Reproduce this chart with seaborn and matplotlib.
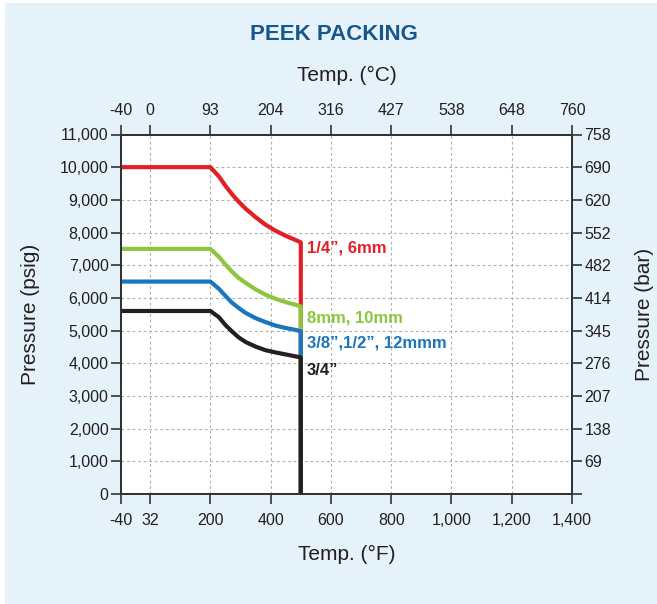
import numpy as np
import seaborn as sns
import matplotlib.pyplot as plt
from matplotlib.patches import Rectangle

# data (temperature in F, pressure in psig)
curve_t = [-40, 200, 228, 250, 272, 294, 317, 350, 383, 417, 450, 483, 500, 500]
red_p = [10000, 10000, 9720, 9430, 9170, 8940, 8730, 8470, 8240, 8050, 7900, 7770, 7700, 0]
green_p = [7500, 7500, 7260, 7020, 6800, 6610, 6460, 6260, 6100, 5970, 5870, 5790, 5740, 0]
blue_p = [6500, 6500, 6280, 6060, 5850, 5690, 5540, 5380, 5260, 5150, 5080, 5020, 4980, 0]
black_p = [5600, 5600, 5410, 5170, 4970, 4790, 4650, 4510, 4400, 4330, 4270, 4210, 4180, 0]

series_names = ["1/4\u201d, 6mm", "8mm, 10mm", "3/8\u201d,1/2\u201d, 12mmm", "3/4\u201d"]
series_label_p = [7520, 5400, 4620, 3790]
colors = ["#e31e24", "#8cc63f", "#1b75bc", "#231f20"]

f_ticks = [-40, 32, 200, 400, 600, 800, 1000, 1200, 1400]
f_labels = ["-40", "32", "200", "400", "600", "800", "1,000", "1,200", "1,400"]
c_labels = ["-40", "0", "93", "204", "316", "427", "538", "648", "760"]
psi_ticks = [0, 1000, 2000, 3000, 4000, 5000, 6000, 7000, 8000, 9000, 10000, 11000]
psi_labels = ["0", "1,000", "2,000", "3,000", "4,000", "5,000", "6,000", "7,000",
              "8,000", "9,000", "10,000", "11,000"]
bar_labels = ["", "69", "138", "207", "276", "345", "414", "482", "552", "620", "690", "758"]

# the original axis is not linear at the low end
xp = [-40, 32, 200, 1400]
fp = [0, 29, 89, 449]
fwd = lambda x: np.interp(x, xp, fp)
inv = lambda x: np.interp(x, fp, xp)

sns.set_theme(style="white")
plt.rcParams['font.family'] = ['Liberation Sans', 'DejaVu Sans']
plt.rcParams['text.color'] = '#231f20'
plt.rcParams['axes.labelcolor'] = '#231f20'

fig = plt.figure(figsize=(6.57, 6.04), dpi=100)
fig.patch.set_facecolor('white')
fig.add_artist(Rectangle((5/657, 0), 1, 1 - 3/604, transform=fig.transFigure,
                         facecolor='#e6f2fa', edgecolor='none', zorder=-10))

ax = fig.add_axes([121/657, 1 - 494/604, 451/657, 359.5/604])
ax.set_facecolor('white')
ax.set_xscale('function', functions=(fwd, inv))

all_p = [red_p, green_p, blue_p, black_p]
for i, p in enumerate(all_p):
    sns.lineplot(x=curve_t, y=p, ax=ax, estimator=None, sort=False, color=colors[i],
                 lw=3, zorder=3 + i)
    ax.text(520, series_label_p[i], series_names[i], color=colors[i],
            fontsize=12, fontweight='bold', ha='left', va='center', zorder=10)

ax.set_xlim(-40, 1400)
ax.set_ylim(0, 11000)
ax.set_xticks(f_ticks)
ax.set_xticklabels(f_labels)
ax.set_yticks(psi_ticks)
ax.set_yticklabels(psi_labels)
ax.grid(True, linestyle=(0, (2.5, 2.5)), color='#b0b0b0', lw=0.8)
ax.set_xlabel("Temp. (\u00b0F)", fontsize=15, labelpad=12)
ax.set_ylabel("Pressure (psig)", fontsize=15, labelpad=14)

ax_top = ax.twiny()
ax_top.set_xscale('function', functions=(fwd, inv))
ax_top.set_xlim(-40, 1400)
ax_top.set_xticks(f_ticks)
ax_top.set_xticklabels(c_labels)
ax_top.set_xlabel("Temp. (\u00b0C)", fontsize=15, labelpad=16)

ax_right = ax.twinx()
ax_right.set_ylim(0, 11000)
ax_right.set_yticks(psi_ticks)
ax_right.set_yticklabels(bar_labels)
ax_right.set_ylabel("Pressure (bar)", fontsize=15, labelpad=17)

for a in [ax, ax_top, ax_right]:
    a.tick_params(direction='out', length=7, width=1.2, color='#333333',
                  labelsize=11.5, labelcolor='#231f20', pad=2)
    for s in a.spines.values():
        s.set_color('#333333')
        s.set_linewidth(1.2)
    a.patch.set_visible(a is ax)
ax_top.grid(False)
ax_right.grid(False)
ax.tick_params(axis='x', pad=7)
ax_top.tick_params(axis='x', pad=5)
ax.tick_params(left=True, bottom=True)
ax_top.tick_params(top=True)
ax_right.tick_params(right=True)

fig.text(334/657, 1 - 35/604, "PEEK PACKING", color='#17588c', fontsize=16,
         fontweight='bold', ha='center', va='center')

fig.savefig("out.png", dpi=100)
